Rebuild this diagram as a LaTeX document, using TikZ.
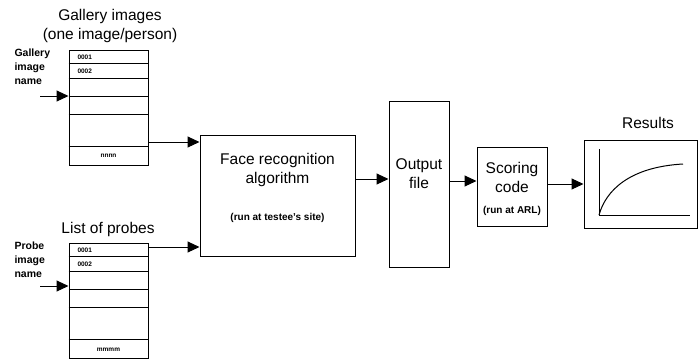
\documentclass[tikz,border=0pt]{standalone}
\usepackage{fontspec}
\setmainfont{Liberation Sans}
\usetikzlibrary{arrows.meta}
\begin{document}
\begin{tikzpicture}[x=1pt,y=-1pt,line width=1pt,
	box/.style={draw,inner sep=0pt},
	arr/.style={-{Triangle[length=12pt,width=11pt]}},
	big/.style={font=\fontsize{15.5}{19}\selectfont,align=center,inner sep=0pt},
	lbl/.style={font=\bfseries\fontsize{10.5}{14}\selectfont,align=left,anchor=north west,inner sep=0pt},
	run/.style={font=\bfseries\fontsize{10}{12}\selectfont,inner sep=0pt},
	tiny/.style={font=\bfseries\fontsize{6.5}{7}\selectfont,inner sep=0pt}]
		\useasboundingbox (0,0) rectangle (698,362);
		\pgfmathsetmacro{\bw}{79};
		% gallery list
		\node[big] (galtitle) at (110,26) {Gallery images\\(one image/person)};
		\node[box,minimum width=79pt,minimum height=115pt] (gal) at (108.5,107.5) {};
		\foreach \o in {14,29,47,65,97} \draw (gal.north west) ++(0,\o) -- ++(\bw,0);
		\node[tiny,anchor=west] (g1) at (77,57) {0001};
		\node[tiny,anchor=west] (g2) at (77,71) {0002};
		\node[tiny] (gn) at (108.5,156) {nnnn};
		\node[lbl] (gallbl) at (14,48) {Gallery\\image\\name};
		\coordinate (galin) at (40,96);
		\draw[arr] (galin) -- (galin -| gal.west);
		% probe list
		\node[big] (probtitle) at (108,229) {List of probes};
		\node[box,minimum width=79pt,minimum height=115pt] (prob) at (108.5,300.5) {};
		\foreach \o in {14,29,47,65,97} \draw (prob.north west) ++(0,\o) -- ++(\bw,0);
		\node[tiny,anchor=west] (p1) at (77,250) {0001};
		\node[tiny,anchor=west] (p2) at (77,264) {0002};
		\node[tiny] (pm) at (108.5,350) {mmmm};
		\node[lbl] (problbl) at (14,241) {Probe\\image\\name};
		\coordinate (probin) at (40,286);
		\draw[arr] (probin) -- (probin -| prob.west);
		% algorithm
		\node[box,minimum width=155pt,minimum height=121pt] (face) at (277.5,195.5) {};
		\node[big] (facetxt) at (277.5,170) {Face recognition\\algorithm};
		\node[run] (facerun) at (277.5,218) {(run at testee's site)};
		\coordinate (galout) at (148,142);
		\coordinate (probout) at (148,247);
		\draw[arr] (galout) -- (galout -| face.west);
		\draw[arr] (probout) -- (probout -| face.west);
		% output file
		\node[box,minimum width=60pt,minimum height=166pt] (out) at (419,184) {};
		\node[big] (outtxt) at (419,174) {Output\\file};
		\coordinate (a1) at (0,179);
		\draw[arr] (face.east |- a1) -- (out.west |- a1);
		% scoring
		\node[box,minimum width=70pt,minimum height=79pt] (score) at (512,186.5) {};
		\node[big] (scoretxt) at (512,177.5) {Scoring\\code};
		\node[run] (scorerun) at (512,211) {(run at ARL)};
		\coordinate (a2) at (0,181);
		\draw[arr] (out.east |- a2) -- (score.west |- a2);
		% results
		\node[box,minimum width=113pt,minimum height=88pt] (res) at (640.5,184) {};
		\node[big] (restitle) at (648,123) {Results};
		\draw[arr] (score.east |- res.west) -- (res.west);
		\coordinate (o) at (599,215);
		\draw (599,149) -- (o) -- (690,215);
		\draw (o) .. controls (606,190) and (630,167) .. (683,164);
	\end{tikzpicture}
\end{document}
